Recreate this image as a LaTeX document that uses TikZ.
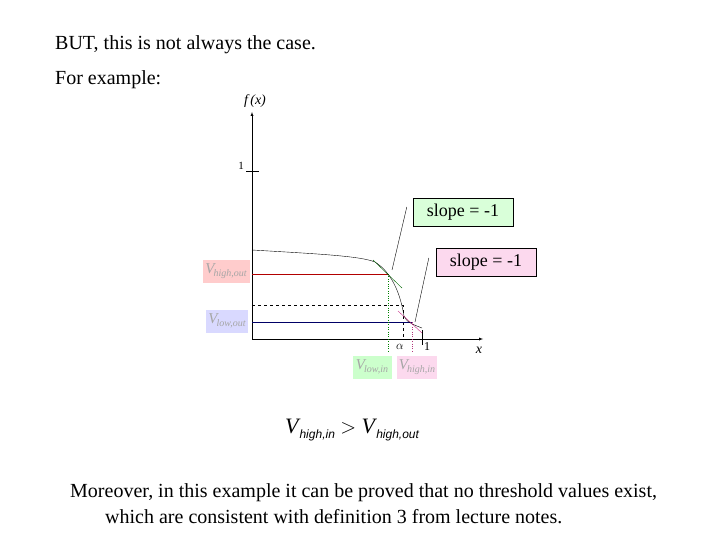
\documentclass[tikz,border=0pt]{standalone}
\usepackage{fontspec}
\setmainfont{Liberation Serif}
\newfontfamily\arialf{Liberation Sans}
\begin{document}
\begin{tikzpicture}[x=1pt,y=-1pt,
  txt/.style={anchor=west,inner sep=0,font=\fontsize{20}{22}\selectfont},
  vlab/.style={inner sep=1pt,text=black!35,font=\fontsize{15}{16}\selectfont\itshape,minimum height=23pt},
  sbox/.style={draw,inner sep=2pt,font=\fontsize{18}{20}\selectfont,minimum height=28pt,minimum width=100pt}]
\useasboundingbox (0,0) rectangle (720,540);
\node[txt] (t1) at (55,45) {BUT, this is not always the case.};
\node[txt] (t2) at (55,80) {For example:};
\node[txt] (t3) at (70,493) {Moreover, in this example it can be proved that no threshold values exist,};
\node[txt] (t4) at (105,517) {which are consistent with definition 3 from lecture notes.};
% axes
\coordinate (O) at (252,339);
\coordinate (Y) at (252,112);
\coordinate (X) at (483,339);
\draw[-latex] (O) -- (Y);
\draw[-latex] (O) -- (X);
\node[font=\fontsize{14}{14}\selectfont\itshape] (fx) at (255,101) {f\,(x)};
\node[font=\fontsize{14}{14}\selectfont\itshape] (xl) at (479,350) {x};
\coordinate (t1a) at (246,171); \coordinate (t1b) at (259,171);
\draw (t1a) -- (t1b);
\node[font=\fontsize{11}{12}\selectfont] (one) at (241,166) {1};
% guide lines
\coordinate (r0) at (252,274); \coordinate (r1) at (388,274);
\draw[red!70!black] (r0) -- (r1);
\coordinate (d0) at (252,305); \coordinate (d1) at (403,305); \coordinate (d2) at (403,339);
\draw[dashed] (d0) -- (d1) -- (d2);
\coordinate (b0) at (252,322); \coordinate (b1) at (412,322);
\draw[blue!40!black] (b0) -- (b1);
\coordinate (g1) at (388,353); \coordinate (m1) at (412,353);
\draw[dotted,green!50!black] (r1) -- (g1);
\draw[dotted,magenta!70!black] (b1) -- (m1);
% curve
\coordinate (c0) at (252,250); \coordinate (c1) at (375,262);
\coordinate (c3) at (422,328);
\draw (c0) .. controls (320,254) and (360,256) .. (c1)
  .. controls (394,274) and (401,298) .. (404,316)
  .. controls (406,322) and (414,325) .. (c3);
% tangents
\coordinate (ta) at (373,260); \coordinate (tb) at (402,288);
\draw[green!40!black] (ta) -- (tb);
\coordinate (tc) at (398,311); \coordinate (td) at (422,333);
\draw[magenta!80!black] (tc) -- (td);
% x tick 1
\coordinate (x1a) at (422,330); \coordinate (x1b) at (422,345);
\draw (x1a) -- (x1b);
\node[font=\fontsize{12}{12}\selectfont] (xone) at (427,347) {1};
\node[font=\fontsize{12}{12}\selectfont] (al) at (400,347) {$\alpha$};
% slope boxes
\node[sbox,fill=green!15] (s1) at (463,212) {slope = -1};
\node[sbox,fill=magenta!15] (s2) at (486,262) {slope = -1};
\coordinate (p1) at (392,270); \coordinate (p2) at (415,322);
\draw (s1.west) ++(-6,-5) coordinate (q1) -- (p1);
\draw (s2.west) ++(-7,-4) coordinate (q2) -- (p2);
% V labels
\node[vlab,fill=red!20,minimum width=47pt] (vho) at (226,271) {V\kern-1pt\raisebox{-3pt}{\fontsize{10}{10}\selectfont high,out}};
\node[vlab,fill=blue!15,minimum width=42pt] (vlo) at (227,321) {V\kern-1pt\raisebox{-3pt}{\fontsize{10}{10}\selectfont low,out}};
\node[vlab,fill=green!20,minimum width=39pt] (vli) at (372,367) {V\kern-1pt\raisebox{-3pt}{\fontsize{10}{10}\selectfont low,in}};
\node[vlab,fill=magenta!15,minimum width=40pt] (vhi) at (417,367) {V\kern-1pt\raisebox{-3pt}{\fontsize{10}{10}\selectfont high,in}};
% formula
\node[font=\fontsize{22}{24}\selectfont] (fm) at (352,430) {\textit{V}\kern-1pt\raisebox{-5pt}{\arialf\itshape\fontsize{12}{12}\selectfont high,in} $>$ \textit{V}\kern-1pt\raisebox{-5pt}{\arialf\itshape\fontsize{12}{12}\selectfont high,out}};
\end{tikzpicture}
\end{document}
